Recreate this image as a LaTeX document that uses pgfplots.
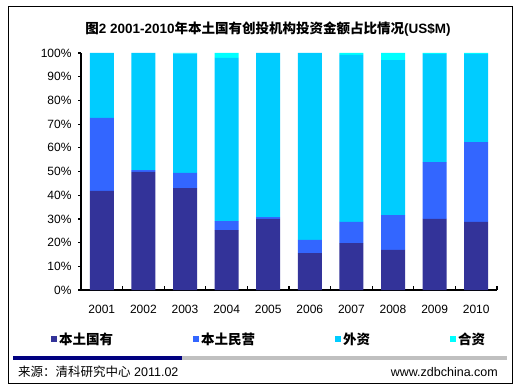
\documentclass[border=0pt]{standalone}
\usepackage{fontspec}
\setmainfont{Liberation Sans}
\newfontfamily\cjk{Noto Sans CJK SC}
\usepackage{pgfplots}
\usepackage{pgfplotstable}
\pgfplotsset{compat=1.18}
\definecolor{cDark}{HTML}{333399}
\definecolor{cBlue}{HTML}{3366FF}
\definecolor{cCyan}{HTML}{00CCFF}
\definecolor{cLight}{HTML}{00FFFF}
\definecolor{cNavy}{HTML}{000080}
\definecolor{cGray}{HTML}{C0C0C0}
\pgfplotstableread{
x gy my wz hz
0 41.8 30.8 27.4 0
1 49.8 0.8 49.4 0
2 43.0 6.4 50.3 0.3
3 25.3 3.8 68.8 2.1
4 30.0 0.8 69.2 0
5 15.6 5.5 78.9 0
6 19.8 8.9 70.5 0.8
7 16.9 14.7 65.4 3.0
8 30.0 24.0 45.6 0.4
9 28.7 33.7 37.2 0.4
}\datatable
\begin{document}
\begin{tikzpicture}[x=1pt,y=1pt]
\path[use as bounding box] (0,0) rectangle (520,389);
\fill[white] (0,0) rectangle (520,389);
\draw[black, line width=0.9pt] (8,6) rectangle (512,383);
\node[font=\bfseries\fontsize{13.5}{15}\selectfont, inner sep=0pt] at (268,360) {{\cjk 图}2 2001-2010{\cjk 年本土国有创投机构投资金额占比情况}(US\$M)};
\begin{axis}[
  at={(81pt,99pt)}, anchor=south west,
  scale only axis, width=416pt, height=237pt,
  ybar stacked, bar width=24pt,
  xmin=-0.5, xmax=9.5, ymin=0, ymax=100,
  axis x line*=bottom, axis y line*=left,
  axis line style={line width=1.2pt, black, -},
  xtick={0,...,9},
  xticklabels={2001,2002,2003,2004,2005,2006,2007,2008,2009,2010},
  minor xtick={-0.5,0.5,...,9.5},
  major x tick style={draw=none},
  minor x tick style={line width=1.2pt, black},
  minor tick length=4pt,
  xtick align=inside,
  ytick={0,10,...,100},
  yticklabels={0\%,10\%,20\%,30\%,40\%,50\%,60\%,70\%,80\%,90\%,100\%},
  ytick align=outside,
  major y tick style={line width=1.2pt, black},
  major tick length=3pt,
  ticklabel style={font=\fontsize{12}{14}\selectfont},
  xticklabel style={yshift=-12pt},
  yticklabel style={xshift=-3pt},
  legend image code/.code={\fill[#1] (0pt,-3pt) rectangle (6pt,3pt);},
  legend columns=4,
  legend style={at={(-0.072,-0.207)}, anchor=west, draw=none, fill=none,
    inner sep=0pt,
    font=\cjk\bfseries\fontsize{13.5}{15}\selectfont,
    /tikz/every even column/.append style={column sep=78pt},
    nodes={inner xsep=2pt}},
]
\addplot[fill=cDark, draw=none] table[x=x, y=gy] {\datatable};
\addplot[fill=cBlue, draw=none] table[x=x, y=my] {\datatable};
\addplot[fill=cCyan, draw=none] table[x=x, y=wz] {\datatable};
\addplot[fill=cLight, draw=none] table[x=x, y=hz] {\datatable};
\legend{本土国有,本土民营,外资,合资}
\end{axis}
\fill[cNavy] (13,29) rectangle (182,33);
\fill[cGray] (182,29) rectangle (507,33);
\node[anchor=west, inner sep=0pt, font=\fontsize{12.5}{14}\selectfont] at (18,17) {{\cjk 来源：清科研究中心} 2011.02};
\node[anchor=east, inner sep=0pt, font=\fontsize{12.5}{14}\selectfont] at (498,17) {www.zdbchina.com};
\end{tikzpicture}
\end{document}
